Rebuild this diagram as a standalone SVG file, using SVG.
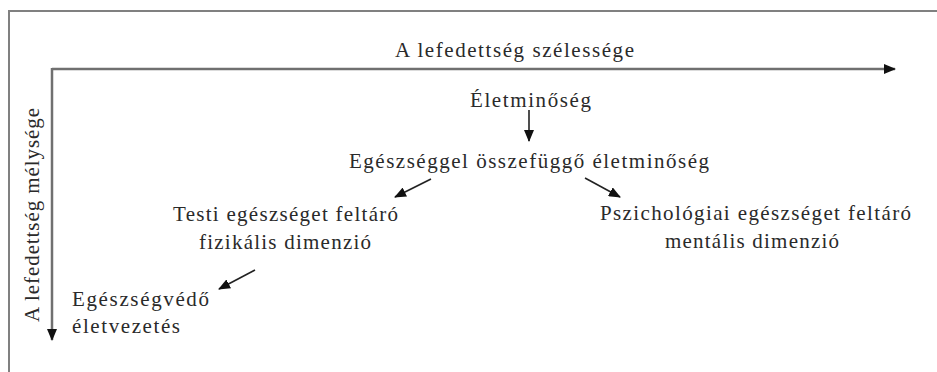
<svg xmlns="http://www.w3.org/2000/svg" width="937" height="372" viewBox="0 0 937 372">
<defs>
<style>
text{font-family:'Liberation Serif','Times New Roman',serif;font-size:21px;fill:#2a2a2a;}
.c{text-anchor:middle;}
.ax{stroke:#707070;stroke-width:2.5;fill:none;}
.ar{stroke:#222;stroke-width:1.6;fill:none;}
</style>
<marker id="ah" viewBox="0 0 12 10" refX="11" refY="5" markerWidth="12" markerHeight="10" markerUnits="userSpaceOnUse" orient="auto"><path d="M0,0 L12,5 L0,10 z" fill="#111"/></marker>
<marker id="axh" viewBox="0 0 12 10" refX="11" refY="5" markerWidth="12" markerHeight="10" markerUnits="userSpaceOnUse" orient="auto"><path d="M0,0 L12,5 L0,10 z" fill="#111"/></marker>
</defs>
<rect width="937" height="372" fill="#fff"/>
<path d="M9,372 V11 H937" stroke="#808080" stroke-width="2" fill="none"/>
<g id="connectors">
<path class="ax" d="M52,69 H895" marker-end="url(#axh)"/>
<path class="ax" d="M52,68 V340" marker-end="url(#axh)"/>
<path class="ar" d="M529,110 V141" marker-end="url(#ah)"/>
<path class="ar" d="M431,179 L395,197" marker-end="url(#ah)"/>
<path class="ar" d="M585,178 L620,197" marker-end="url(#ah)"/>
<path class="ar" d="M255,270 L219,289" marker-end="url(#ah)"/>
</g>
<g id="axis-x"><text class="c" x="514.5" y="57" textLength="239">A lefedettség szélessége</text></g>
<g id="axis-y"><text class="c" transform="translate(39,215) rotate(-90)" textLength="214">A lefedettség mélysége</text></g>
<g id="n1"><text class="c" x="530.5" y="107" textLength="121">Életminőség</text></g>
<g id="n2"><text class="c" x="529" y="168" textLength="360">Egészséggel összefüggő életminőség</text></g>
<g id="n3"><text class="c" x="285.5" y="221" textLength="225">Testi egészséget feltáró</text><text class="c" x="285" y="249" textLength="172">fizikális dimenzió</text></g>
<g id="n4"><text class="c" x="755.5" y="220" textLength="311">Pszichológiai egészséget feltáró</text><text class="c" x="752" y="248" textLength="174">mentális dimenzió</text></g>
<g id="n5"><text x="72" y="306" textLength="137">Egészségvédő</text><text x="72" y="333" textLength="108">életvezetés</text></g>
</svg>
